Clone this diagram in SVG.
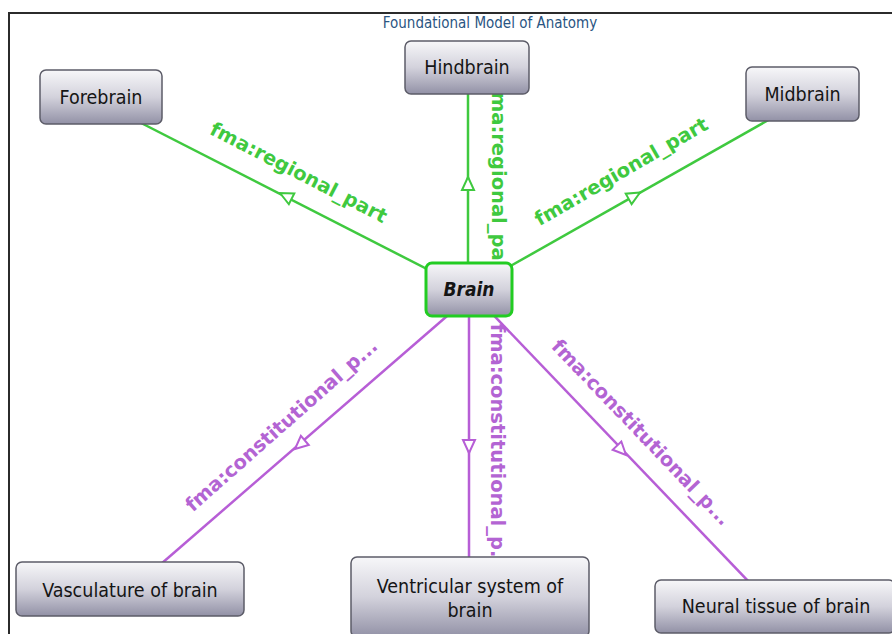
<svg xmlns="http://www.w3.org/2000/svg" width="892" height="634" viewBox="0 0 892 634">
  <defs>
    <linearGradient id="nodeFill" x1="0" y1="0" x2="0" y2="1">
      <stop offset="0" stop-color="#f7f7f9"/>
      <stop offset="0.5" stop-color="#d3d2dc"/>
      <stop offset="1" stop-color="#9291a6"/>
    </linearGradient>
    <!-- open triangle, tip at origin pointing along +x -->
    <path id="tri" d="M0,0 L-13,-6 L-13,6 Z"/>
    <style>
      .frame { fill: none; stroke: #2b2b2b; stroke-width: 2; }
      .title { font-family: "DejaVu Sans Condensed", "DejaVu Sans", sans-serif; font-size: 15px; fill: #2a5582; text-anchor: middle; }
      .node rect { fill: url(#nodeFill); stroke: #5c5c68; stroke-width: 1.5; }
      .node text { font-family: "DejaVu Sans Condensed", "DejaVu Sans", sans-serif; font-size: 19.5px; fill: #151515; text-anchor: middle; }
      #brain rect { stroke: #22cc22; stroke-width: 3; }
      #brain text { font-weight: bold; font-style: italic; font-size: 19px; }
      .green { stroke: #3fc93f; stroke-width: 2.5; fill: none; }
      .purple { stroke: #b75ed6; stroke-width: 2.5; fill: none; }
      .arrow-g { fill: #ffffff; stroke: #3fc93f; stroke-width: 2; }
      .arrow-p { fill: #ffffff; stroke: #b75ed6; stroke-width: 2; }
      .lbl { font-family: "DejaVu Sans", Verdana, sans-serif; font-weight: bold; font-size: 19.5px; text-anchor: middle; }
      .lbl-g { fill: #3fc93f; }
      .lbl-p { fill: #b364d3; }
    </style>
  </defs>

  <rect width="892" height="634" fill="#ffffff"/>
  <rect class="frame" x="9" y="13" width="900" height="640"/>
  <text class="title" x="490" y="28">Foundational Model of Anatomy</text>

  <g id="connectors">
    <!-- regional parts -->
    <line class="green" x1="469" y1="290.5" x2="101" y2="102.5"/>
    <use href="#tri" class="arrow-g" transform="translate(280,193) rotate(207)"/>
    <text class="lbl lbl-g" transform="translate(298,174) rotate(27.3)" y="5">fma:regional_part</text>

    <line class="green" x1="468" y1="289.5" x2="468" y2="67"/>
    <use href="#tri" class="arrow-g" transform="translate(468,177) rotate(-90)"/>
    <text class="lbl lbl-g" transform="translate(496.5,181.5) rotate(90)" y="5">fma:regional_part</text>

    <line class="green" x1="469" y1="289.5" x2="802" y2="101"/>
    <use href="#tri" class="arrow-g" transform="translate(640,192.5) rotate(-29.5)"/>
    <text class="lbl lbl-g" transform="translate(622,173) rotate(-30)" y="5">fma:regional_part</text>

    <!-- constitutional parts -->
    <line class="purple" x1="469" y1="297" x2="131" y2="590"/>
    <use href="#tri" class="arrow-p" transform="translate(295,449) rotate(139)"/>
    <text class="lbl lbl-p" transform="translate(282.5,426.5) rotate(-41.5)" y="5">fma:constitutional_p...</text>

    <line class="purple" x1="469" y1="289.5" x2="469" y2="597"/>
    <use href="#tri" class="arrow-p" transform="translate(469,453) rotate(90)"/>
    <text class="lbl lbl-p" transform="translate(496,448) rotate(90)" y="5">fma:constitutional_p...</text>

    <line class="purple" x1="469" y1="289.5" x2="772" y2="606"/>
    <use href="#tri" class="arrow-p" transform="translate(626,455) rotate(46.2)"/>
    <text class="lbl lbl-p" transform="translate(640,433.5) rotate(46.2)" y="5">fma:constitutional_p...</text>
  </g>

  <g id="forebrain" class="node">
    <rect x="40" y="70" width="122" height="54" rx="6"/>
    <text x="101" y="103.5">Forebrain</text>
  </g>
  <g id="hindbrain" class="node">
    <rect x="405" y="41" width="124" height="53" rx="6"/>
    <text x="467" y="74">Hindbrain</text>
  </g>
  <g id="midbrain" class="node">
    <rect x="746" y="67" width="113" height="54" rx="6"/>
    <text x="802.5" y="101">Midbrain</text>
  </g>
  <g id="brain" class="node">
    <rect x="426" y="263" width="86" height="53" rx="6"/>
    <text x="469" y="296">Brain</text>
  </g>
  <g id="vasculature" class="node">
    <rect x="16" y="562" width="228" height="54" rx="6"/>
    <text x="130" y="597">Vasculature of brain</text>
  </g>
  <g id="ventricular" class="node">
    <rect x="351" y="557" width="238" height="80" rx="6"/>
    <text x="470" y="593">Ventricular system of</text>
    <text x="470" y="617">brain</text>
  </g>
  <g id="neural" class="node">
    <rect x="655" y="580" width="240" height="53" rx="6"/>
    <text x="776" y="613">Neural tissue of brain</text>
  </g>
</svg>
